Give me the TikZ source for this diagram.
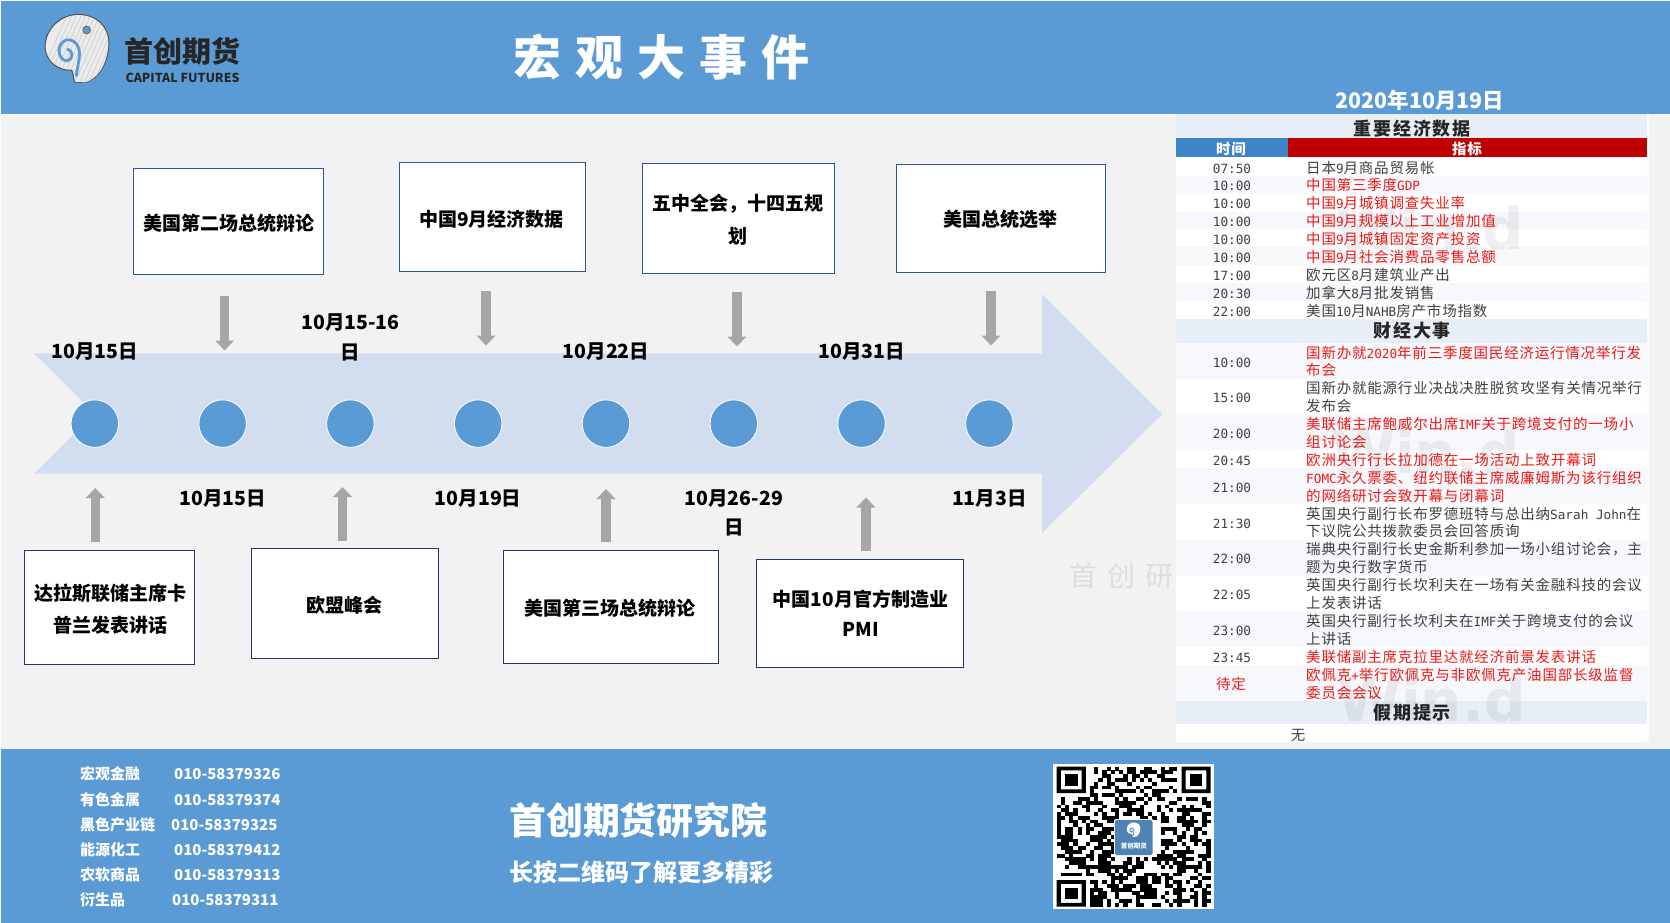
\documentclass[tikz,border=0pt]{standalone}
\usepackage{fontspec}
\usetikzlibrary{arrows.meta}
\setmainfont{Noto Sans CJK SC}
\newfontfamily\tabcjk[LetterSpace=5.5]{Noto Sans CJK SC}
\newfontfamily\tabasc{DejaVu Sans Mono}
\newfontfamily\headcjk[LetterSpace=11]{Noto Sans CJK SC}
\newfontfamily\titlecjk[LetterSpace=29.5]{Noto Sans CJK SC}
\newfontfamily\markcjk[LetterSpace=36]{Noto Sans CJK SC}
\newfontfamily\wmark{DejaVu Sans}
\definecolor{hdrblue}{HTML}{5B9BD5}
\definecolor{pagegray}{HTML}{F2F2F2}
\definecolor{arrowband}{HTML}{D2DEEF}
\definecolor{arrowgray}{HTML}{A6A6A6}
\definecolor{boxline}{HTML}{2F5597}
\definecolor{boxlinedark}{HTML}{1F3864}
\definecolor{secband}{HTML}{E7EEF7}
\definecolor{rowband}{HTML}{F6F8FB}
\definecolor{thblue}{HTML}{3F83C9}
\definecolor{thred}{HTML}{C00000}
\definecolor{rowred}{HTML}{F01818}
\definecolor{rowblack}{HTML}{404040}
\newcommand\la[1]{{\tabasc\fontsize{12.7}{12.7}\selectfont #1}}
\newcounter{rw}
\tikzset{
  bt/.style={font=\bfseries\fontsize{#1}{#1}\selectfont,inner sep=0pt,text height=0.95*#1pt,text depth=0.05*#1pt},
  wt/.style={bt=#1,text=white},
  evbox/.style={draw=boxline,line width=1pt,fill=white,inner sep=0pt},
  evboxd/.style={evbox,draw=boxlinedark},
  dot/.style={circle,fill=hdrblue,draw=white,line width=0.8pt,minimum size=47.5pt,inner sep=0pt},
  blockarrow/.style={draw=arrowgray,line width=9.6pt,-{Triangle[width=18.5pt,length=10pt,fill=arrowgray]},shorten >=0pt},
  rowt/.style={font=\tabcjk\fontsize{14.5}{14.5}\selectfont,anchor=west,inner sep=0pt,text height=13.6pt,text depth=1pt},
  timet/.style={font=\tabcjk\fontsize{14.5}{14.5}\selectfont,inner sep=0pt,text height=13.6pt,text depth=1pt},
  sect/.style={font=\bfseries\headcjk\fontsize{18}{18}\selectfont,inner sep=0pt,text=black!85,text height=16pt,text depth=2pt},
  tht/.style={font=\bfseries\tabcjk\fontsize{14.5}{14.5}\selectfont,inner sep=0pt,text=white,text height=13.6pt,text depth=1pt},
}
\newcommand\rowone[4]{\stepcounter{rw}%
  \node[timet,text=rowblack] (t\arabic{rw}) at (1232,#1) {#3};%
  \node[rowt,text=#2] (x\arabic{rw}) at (1306,#1) {#4};}
\newcommand\rowtwo[5]{\stepcounter{rw}%
  \node[timet,text=rowblack] (t\arabic{rw}) at (1232,#1) {#3};%
  \node[rowt,text=#2] (x\arabic{rw}) at (1306,#1-8.97) {#4};%
  \node[rowt,text=#2] (y\arabic{rw}) at (1306,#1+8.97) {#5};}
\begin{document}
\begin{tikzpicture}[x=1pt,y=-1pt]
\useasboundingbox (0,0) rectangle (1670,923);
\fill[white] (0,0) rectangle (1670,923);
\fill[pagegray] (1,1) rectangle (1670,923);
% header and footer
\fill[hdrblue] (1,1) rectangle (1670,114);
\fill[hdrblue] (1,749) rectangle (1670,923);
% logo
\begin{scope}[shift={(35,5)},x=0.3333pt,y=-0.3333pt]
  \fill[black!70] (118,234) .. controls (112,215) and (114,205) .. (108,197)
    .. controls (70,200) and (28,170) .. (29,122)
    .. controls (32,65) and (80,27) .. (130,27)
    .. controls (185,27) and (224,65) .. (223,115)
    .. controls (222,175) and (190,225) .. (150,234) -- cycle;
  \begin{scope}
  \clip (120,231) .. controls (116,215) and (118,205) .. (112,194)
    .. controls (72,197) and (31,168) .. (32,122)
    .. controls (35,68) and (82,30) .. (130,30)
    .. controls (183,30) and (221,67) .. (220,115)
    .. controls (219,175) and (188,223) .. (150,232) -- cycle;
  \fill[black!8] (0,0) rectangle (260,260);
  \foreach \k in {0,14,...,280}
    \draw[black!22,line width=0.5pt] (\k,250) -- (\k+110,0);
  \end{scope}
  \draw[hdrblue,line width=2.8pt,line cap=round] (124,212) .. controls (128,180) and (138,150) .. (131,130)
    .. controls (124,105) and (95,95) .. (80,115)
    .. controls (62,138) and (78,170) .. (98,167)
    .. controls (116,163) and (114,135) .. (98,133);
  \fill[black!60] (155,75) circle (13);
  \fill[hdrblue] (155,75) circle (10);
\end{scope}
\node[bt=29,text=black!85] (brand) at (182.5,49.5) {首创期货};
\node[bt=12.4,text=black!85] (brandlat) at (182.5,77.2) {CAPITAL FUTURES};
\node[font=\bfseries\titlecjk\fontsize{48}{48}\selectfont,text=white,anchor=west,inner sep=0pt,text height=42.2pt,text depth=5.8pt] (title) at (513,57) {宏观大事件};
\node[wt=21.4] (date) at (1420,99) {2020年10月19日};
% faint mark behind the table
\node[font=\markcjk\fontsize{28}{28}\selectfont,text=black!13,anchor=west,inner sep=0pt,text height=24.6pt,text depth=3.4pt] (mark0) at (1069,576) {首创研};
% timeline band
\fill[arrowband] (34,353.3) -- (1042,353.3) -- (1042,294) -- (1162.3,414) -- (1042,533.3) -- (1042,473.7) -- (34,473.7) -- (94,413.5) -- cycle;
\foreach \i/\x in {1/94.8,2/222.6,3/350.4,4/478.2,5/606,6/733.8,7/861.6,8/989.4}
  \node[dot] (c\i) at (\x,423.6) {};
% dates
\node[bt=19.5] (d1) at (94.8,350) {10月15日};
\node[bt=19.5] (d2) at (222.6,496.7) {10月15日};
\node[bt=19.5] (d3a) at (350.4,321) {10月15-16};
\node[bt=19.5] (d3b) at (350.4,351) {日};
\node[bt=19.5] (d4) at (478.2,496.7) {10月19日};
\node[bt=19.5] (d5) at (606,350) {10月22日};
\node[bt=19.5] (d6a) at (733.8,496.5) {10月26-29};
\node[bt=19.5] (d6b) at (733.8,526) {日};
\node[bt=19.5] (d7) at (861.6,350) {10月31日};
\node[bt=19.5] (d8) at (989.4,496.7) {11月3日};
% boxes
\node[evbox,minimum width=189.6pt,minimum height=106pt] (b1) at (228.7,221.9) {};
\node[evbox,minimum width=186pt,minimum height=109pt] (b2) at (492,217.4) {};
\node[evbox,minimum width=191.8pt,minimum height=110pt] (b3) at (738.1,218.9) {};
\node[evbox,minimum width=208.8pt,minimum height=108.7pt] (b4) at (1000.6,218.6) {};
\node[evboxd,minimum width=170.3pt,minimum height=114pt] (b5) at (109.4,607.5) {};
\node[evboxd,minimum width=187pt,minimum height=110pt] (b6) at (344.7,603.5) {};
\node[evboxd,minimum width=215.5pt,minimum height=113pt] (b7) at (610.8,607) {};
\node[evboxd,minimum width=207pt,minimum height=108pt] (b8) at (860,613.2) {};
\node[bt=19] (l1) at (229,221.7) {美国第二场总统辩论};
\node[bt=19] (l2) at (491.7,218) {中国9月经济数据};
\node[bt=19] (l3a) at (737.5,202) {五中全会，十四五规};
\node[bt=19] (l3b) at (737.5,235) {划};
\node[bt=19] (l4) at (1000,218) {美国总统选举};
\node[bt=19] (l5a) at (110,592) {达拉斯联储主席卡};
\node[bt=19] (l5b) at (110,624) {普兰发表讲话};
\node[bt=19] (l6) at (344.4,603.7) {欧盟峰会};
\node[bt=19] (l7) at (609.5,607) {美国第三场总统辩论};
\node[bt=19] (l8a) at (860.5,597.5) {中国10月官方制造业};
\node[bt=19] (l8b) at (860.5,628) {PMI};
% block arrows
\coordinate (a1s) at (224.6,296); \coordinate (a1e) at (224.6,350.5);
\coordinate (a2s) at (486,291); \coordinate (a2e) at (486,345.5);
\coordinate (a3s) at (737,292); \coordinate (a3e) at (737,346.5);
\coordinate (a4s) at (991,291); \coordinate (a4e) at (991,345.5);
\coordinate (a5s) at (95.3,541.7); \coordinate (a5e) at (95.3,488);
\coordinate (a6s) at (342.5,540.7); \coordinate (a6e) at (342.5,487);
\coordinate (a7s) at (606,542); \coordinate (a7e) at (606,489);
\coordinate (a8s) at (866,551); \coordinate (a8e) at (866,497.5);
\foreach \i in {1,...,8} \draw[blockarrow] (a\i s) -- (a\i e);
% table panel
\fill[rowband!60!white] (1176,114) rectangle (1649,742);
\fill[white] (1176,114) rectangle (1647,742);
\fill[secband] (1176,114) rectangle (1647,138);
\fill[thblue] (1176,138) rectangle (1288,157);
\fill[thred] (1288,138) rectangle (1647,157);
\foreach \c/\h in {184.6/8.97,220.5/8.97,256.4/8.97,292.2/8.97,360.7/17.95,432.4/17.95,485.8/17.95,557.6/17.95,629.4/17.95,683.2/17.95}
  \fill[rowband] (1176,\c-\h) rectangle (1647,\c+\h);
\fill[secband] (1176,319) rectangle (1647,342.7);
\fill[secband] (1176,701.2) rectangle (1647,723.5);
\node[sect] (s1) at (1412,128.3) {重要经济数据};
\node[tht] (h1) at (1231,148.2) {时间};
\node[tht] (h2) at (1467,148.2) {指标};
\rowone{166.7}{rowblack}{\la{07:50}}{日本\la{9}月商品贸易帐}
\rowone{184.6}{rowred}{\la{10:00}}{中国第三季度\la{GDP}}
\rowone{202.6}{rowred}{\la{10:00}}{中国\la{9}月城镇调查失业率}
\rowone{220.5}{rowred}{\la{10:00}}{中国\la{9}月规模以上工业增加值}
\rowone{238.4}{rowred}{\la{10:00}}{中国\la{9}月城镇固定资产投资}
\rowone{256.4}{rowred}{\la{10:00}}{中国\la{9}月社会消费品零售总额}
\rowone{274.3}{rowblack}{\la{17:00}}{欧元区\la{8}月建筑业产出}
\rowone{292.2}{rowblack}{\la{20:30}}{加拿大\la{8}月批发销售}
\rowone{310.1}{rowblack}{\la{22:00}}{美国\la{10}月\la{NAHB}房产市场指数}
\node[sect] (s2) at (1412,330.7) {财经大事};
\rowtwo{360.7}{rowred}{\la{10:00}}{国新办就\la{2020}年前三季度国民经济运行情况举行发}{布会}
\rowtwo{396.6}{rowblack}{\la{15:00}}{国新办就能源行业决战决胜脱贫攻坚有关情况举行}{发布会}
\rowtwo{432.4}{rowred}{\la{20:00}}{美联储主席鲍威尔出席\la{IMF}关于跨境支付的一场小}{组讨论会}
\rowone{459.3}{rowred}{\la{20:45}}{欧洲央行行长拉加德在一场活动上致开幕词}
\rowtwo{485.8}{rowred}{\la{21:00}}{\la{FOMC}永久票委、纽约联储主席威廉姆斯为该行组织}{的网络研讨会致开幕与闭幕词}
\rowtwo{521.7}{rowblack}{\la{21:30}}{英国央行副行长布罗德班特与总出纳\la{Sarah John}在}{下议院公共拨款委员会回答质询}
\rowtwo{557.6}{rowblack}{\la{22:00}}{瑞典央行副行长史金斯利参加一场小组讨论会，主}{题为央行数字货币}
\rowtwo{593.5}{rowblack}{\la{22:05}}{英国央行副行长坎利夫在一场有关金融科技的会议}{上发表讲话}
\rowtwo{629.4}{rowblack}{\la{23:00}}{英国央行副行长坎利夫在\la{IMF}关于跨境支付的会议}{上讲话}
\rowone{656.3}{rowred}{\la{23:45}}{美联储副主席克拉里达就经济前景发表讲话}
\stepcounter{rw}
\node[timet,text=rowred] (t\arabic{rw}) at (1231,683.2) {待定};
\node[rowt,text=rowred] (x\arabic{rw}) at (1306,674.2) {欧佩克\la{+}举行欧佩克与非欧佩克产油国部长级监督};
\node[rowt,text=rowred] (y\arabic{rw}) at (1306,692.2) {委员会会议};
\node[sect] (s3) at (1412,712.7) {假期提示};
\node[timet,text=rowblack] (none) at (1298,734) {无};
% table watermarks
\node[font=\wmark\bfseries\fontsize{58}{58}\selectfont,text=black,opacity=0.06,anchor=east,inner sep=0pt] (w1) at (1524,228) {Win.d};
\node[font=\wmark\bfseries\fontsize{58}{58}\selectfont,text=black,opacity=0.06,anchor=east,inner sep=0pt] (w2) at (1520,452) {Win.d};
\node[font=\wmark\bfseries\fontsize{58}{58}\selectfont,text=black,opacity=0.06,anchor=east,inner sep=0pt] (w3) at (1526,700) {Win.d};
% footer text
\foreach \n/\nm/\y/\px/\ph in {1/宏观金融/772.7/174/010-58379326,2/有色金属/799/174/010-58379374,3/黑色产业链/823.7/171/010-58379325,4/能源化工/848.7/174/010-58379412,5/农软商品/873.3/174/010-58379313,6/衍生品/898.7/172/010-58379311}{
  \node[wt=15,anchor=west] (fn\n) at (80,\y) {\nm};
  \node[wt=15,anchor=west] (fp\n) at (\px,\y) {\ph};
}
\node[wt=36.9,anchor=west] (ft1) at (509,817.8) {首创期货研究院};
\node[wt=24,anchor=west] (ft2) at (509,870.3) {长按二维码了解更多精彩};
% QR code
\fill[white] (1053.3,764) rectangle (1214,909.3);
\begin{scope}[shift={(1056.7,766.7)},x=4.16pt,y=-3.78pt]
  \pgfmathsetseed{1019}
  \foreach \r in {0,...,36}{
    \foreach \c in {0,...,36}{
      \pgfmathrandominteger{\bit}{0}{99}
      \pgfmathtruncatemacro{\skipit}{(\r<8 && \c<8) || (\r<8 && \c>28) || (\r>28 && \c<8) || (\r>13 && \r<24 && \c>13 && \c<24) ? 1 : 0}
      \ifnum\skipit=0
        \ifnum\bit<52
          \fill[black] (\c,\r) rectangle (\c+1.02,\r+1.02);
        \fi
      \fi
    }
  }
  \foreach \fx/\fy in {0/0,30/0,0/30}{
    \fill[black,even odd rule] (\fx,\fy) rectangle (\fx+7,\fy+7) (\fx+1,\fy+1) rectangle (\fx+6,\fy+6);
    \fill[black] (\fx+2,\fy+2) rectangle (\fx+5,\fy+5);
  }
\end{scope}
\fill[white,rounded corners=2pt] (1114,819) rectangle (1153.5,856);
\fill[hdrblue!85!black,rounded corners=2pt] (1115,820) rectangle (1152.5,855);
\begin{scope}[shift={(1124.7,820.5)},x=0.07pt,y=-0.07pt]
  \fill[white] (118,234) .. controls (112,215) and (114,205) .. (108,197)
    .. controls (70,200) and (28,170) .. (29,122)
    .. controls (32,65) and (80,27) .. (130,27)
    .. controls (185,27) and (224,65) .. (223,115)
    .. controls (222,175) and (190,225) .. (150,234) -- cycle;
  \draw[hdrblue!85!black,line width=0.8pt] (124,212) .. controls (128,180) and (138,150) .. (131,130)
    .. controls (124,105) and (95,95) .. (80,115)
    .. controls (62,138) and (78,170) .. (98,167)
    .. controls (116,163) and (114,135) .. (98,133);
\end{scope}
\node[wt=6.5] (qrname) at (1133.8,846) {首创期货};
\end{tikzpicture}
\end{document}
